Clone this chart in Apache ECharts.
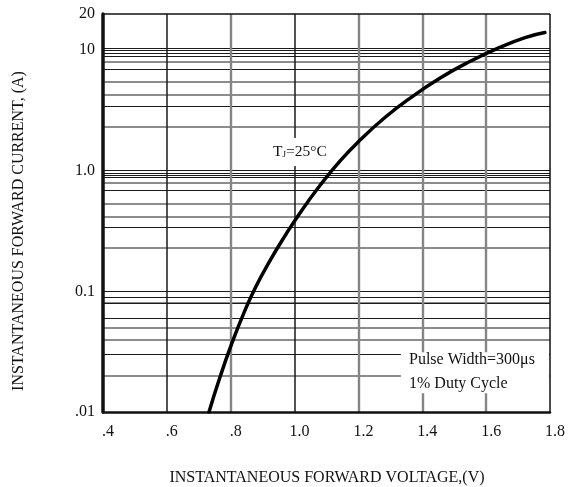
<!DOCTYPE html>
<html><head><meta charset="utf-8">
<script src="https://cdn.jsdelivr.net/npm/echarts@6/dist/echarts.min.js"></script>
<style>html,body{margin:0;padding:0;background:#fff}#c{width:574px;height:487px}</style>
</head><body><div id="c"></div>
<script>
// Curve: instantaneous forward voltage (V) vs current (A), TJ = 25°C
const voltage = [0.732, 0.766, 0.804, 0.842, 0.879, 0.923, 0.970, 1.017, 1.080, 1.142, 1.205, 1.283, 1.362, 1.456, 1.549, 1.643, 1.722, 1.784];
const current = [0.0100, 0.0193, 0.0374, 0.0670, 0.110, 0.180, 0.289, 0.448, 0.759, 1.205, 1.80, 2.77, 4.01, 5.89, 8.07, 10.57, 12.75, 14.05];

const xTickValues = [0.4, 0.6, 0.8, 1.0, 1.2, 1.4, 1.6, 1.8];
const xTickLabels = ['.4', '.6', '.8', '1.0', '1.2', '1.4', '1.6', '1.8'];
const yTickValues = [0.01, 0.1, 1, 10, 20];
const yTickLabels = ['.01', '0.1', '1.0', '10', '20'];

// Horizontal grid lines of the printed log paper
const gridYBlack = [10.45, 9.93, 9.43, 8.98, 7.00, 3.43, 1.02, 0.963, 0.915, 0.880, 0.687, 0.337, 0.0976, 0.0927, 0.0881, 0.0838, 0.0649, 0.0320];
const gridYGrey = [8.10, 5.50, 4.29, 2.34, 0.796, 0.533, 0.418, 0.230, 0.0756, 0.0506, 0.0406, 0.0219];
const gridXBlack = [0.6, 1.0];
const gridXGrey = [0.8, 1.2, 1.4, 1.6];

const FONT = '"Liberation Serif", "Times New Roman", serif';

function nearestLabel(v, vals, labels) {
  let best = 0, bd = Infinity;
  vals.forEach((t, i) => { const d = Math.abs(Math.log(t) - Math.log(v)); if (d < bd) { bd = d; best = i; } });
  return labels[best];
}
function nearestLin(v, vals, labels) {
  let best = 0, bd = Infinity;
  vals.forEach((t, i) => { const d = Math.abs(t - v); if (d < bd) { bd = d; best = i; } });
  return labels[best];
}

const blackLine = { color: '#1a1a1a', width: 1.2, type: 'solid' };
const greyLine = { color: '#8c8c8c', width: 2, type: 'solid' };

const markData = [];
gridYGrey.forEach(v => markData.push({ yAxis: v, lineStyle: greyLine }));
gridYBlack.forEach(v => markData.push({ yAxis: v, lineStyle: blackLine }));
gridXGrey.forEach(v => markData.push({ xAxis: v, lineStyle: { color: '#858585', width: 2.4, type: 'solid' } }));
gridXBlack.forEach(v => markData.push({ xAxis: v, lineStyle: { color: '#1a1a1a', width: 1.5, type: 'solid' } }));

const frameData = [
  { yAxis: yTickValues[yTickValues.length - 1], lineStyle: { color: '#111', width: 1.5, type: 'solid' } },
  { xAxis: xTickValues[xTickValues.length - 1], lineStyle: { color: '#111', width: 1.5, type: 'solid' } }
];

const chart = echarts.init(document.getElementById('c'), null, { renderer: 'canvas' });
chart.setOption({
  animation: false,
  backgroundColor: '#fff',
  grid: { left: 103, right: 24, top: 14, bottom: 75, containLabel: false },
  xAxis: {
    type: 'value', min: 0.4, max: 1.8, interval: 0.2, z: 5,
    axisLine: { show: true, onZero: false, lineStyle: { color: '#111', width: 2.5 } },
    axisTick: { show: false },
    splitLine: { show: false },
    axisLabel: {
      color: '#111', fontFamily: FONT, fontSize: 16, margin: 12, padding: [0, 0, 0, 10],
      formatter: v => nearestLin(v, xTickValues, xTickLabels)
    }
  },
  yAxis: {
    type: 'log', logBase: 10, min: 0.01, max: 20, z: 5,
    axisLine: { show: true, onZero: false, lineStyle: { color: '#111', width: 3.5 } },
    axisTick: { show: false },
    splitLine: { show: false },
    minorSplitLine: { show: false },
    axisLabel: {
      color: '#111', fontFamily: FONT, fontSize: 16, margin: 8,
      formatter: v => nearestLabel(v, yTickValues, yTickLabels)
    }
  },
  series: [
    {
      type: 'line', data: [], silent: true, z: 1,
      markLine: { z: 1, silent: true, symbol: 'none', label: { show: false }, animation: false, data: markData }
    },
    {
      type: 'line', data: [], silent: true, z: 2,
      markArea: {
        z: 2, silent: true, animation: false,
        itemStyle: { color: '#ffffff', borderWidth: 0 },
        label: { show: false },
        data: [[{ xAxis: 1.333, yAxis: 0.0313 }, { xAxis: 1.797, yAxis: 0.0143 }]]
      }
    },
    {
      type: 'line', data: [], silent: true, z: 3,
      markLine: { z: 3, silent: true, symbol: 'none', label: { show: false }, animation: false, data: frameData }
    },
    {
      type: 'line', z: 6, silent: true,
      data: voltage.map((v, i) => [v, current[i]]),
      smooth: 0.5, showSymbol: false, symbol: 'none',
      lineStyle: { color: '#000', width: 3.5, cap: 'round', join: 'round' }
    }
  ],
  graphic: [
    {
      type: 'text', z: 10, x: 327, y: 478,
      style: {
        text: 'INSTANTANEOUS FORWARD VOLTAGE,(V)',
        align: 'center', verticalAlign: 'middle',
        font: '16px ' + FONT, fill: '#111'
      }
    },
    {
      type: 'text', z: 10, x: 19, y: 231, rotation: Math.PI / 2,
      style: {
        text: 'INSTANTANEOUS FORWARD CURRENT, (A)',
        align: 'center', verticalAlign: 'middle',
        font: '16px ' + FONT, fill: '#111'
      }
    },
    {
      type: 'text', z: 10, x: 271, y: 152,
      style: {
        text: '{a|T}{s|J}{a|=25°C}',
        verticalAlign: 'middle', align: 'left',
        backgroundColor: '#fff', padding: [6, 2, 6, 2],
        rich: {
          a: { fontFamily: FONT, fontSize: 15.5, fill: '#111', color: '#111' },
          s: { fontFamily: FONT, fontSize: 9, fill: '#111', color: '#111', padding: [5, 0, 0, 0] }
        }
      }
    },
    {
      type: 'text', z: 10, x: 409, y: 360,
      style: { text: 'Pulse Width=300μs', verticalAlign: 'middle', font: '16px ' + FONT, fill: '#111' }
    },
    {
      type: 'text', z: 10, x: 409, y: 384,
      style: { text: '1% Duty Cycle', verticalAlign: 'middle', font: '16px ' + FONT, fill: '#111' }
    }
  ]
});
</script>
</body></html>
